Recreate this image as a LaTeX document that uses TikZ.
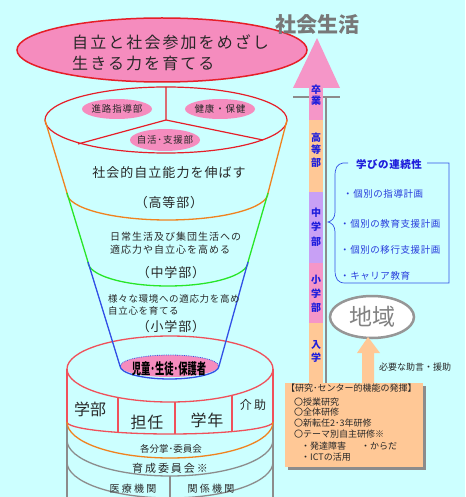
\documentclass[tikz,border=0pt]{standalone}
\usepackage{fontspec}
\setmainfont{Noto Sans CJK JP}
\usetikzlibrary{shapes.geometric}
\definecolor{bg}{RGB}{204,255,255}
\definecolor{pinkfill}{RGB}{245,140,190}
\definecolor{redline}{RGB}{230,30,40}
\definecolor{cylred}{RGB}{240,80,90}
\definecolor{orangeline}{RGB}{240,130,30}
\definecolor{greenline}{RGB}{40,230,40}
\definecolor{blueline}{RGB}{50,80,230}
\definecolor{grayline}{RGB}{140,140,140}
\definecolor{barpink}{RGB}{245,150,200}
\definecolor{peach}{RGB}{255,200,150}
\definecolor{purplebar}{RGB}{200,160,245}
\definecolor{txtblue}{RGB}{30,30,220}
\definecolor{itemblue}{RGB}{40,60,220}
\definecolor{darktext}{RGB}{40,40,40}
\tikzset{
  txt/.style={inner sep=0pt, text=darktext},
  lab/.style={ellipse, fill=pinkfill, inner sep=0pt},
  barlab/.style={inner sep=0pt, text=txtblue, font=\bfseries\fontsize{10}{11.5}\selectfont, align=center},
  item/.style={inner sep=0pt, anchor=west, text=itemblue, font=\fontsize{9.5}{10}\selectfont\addfontfeature{LetterSpace=6}},
  boxtxt/.style={inner sep=0pt, anchor=west, text=darktext, font=\fontsize{9}{10}\selectfont}
}
\begin{document}
\begin{tikzpicture}[x=1pt,y=-1pt]
\fill[bg] (0,0) rectangle (465,497);
\useasboundingbox (0,0) rectangle (465,497);

% ---------- top ellipse ----------
\draw[redline, line width=1.5pt, fill=pinkfill] (162,50) ellipse [x radius=145, y radius=32];
\node[txt, anchor=west, font=\fontsize{16}{18}\selectfont\addfontfeature{LetterSpace=13}] (goal1) at (72,42) {自立と社会参加をめざし};
\node[txt, anchor=west, font=\fontsize{16}{18}\selectfont\addfontfeature{LetterSpace=13}] (goal2) at (72,63) {生きる力を育てる};

% ---------- cylinder ----------
\draw[cylred, line width=1.3pt] (170,369) ellipse [x radius=103, y radius=33];
\draw[cylred, line width=1.3pt] (67,369) -- (67,422) (273,369) -- (273,422);
\draw[grayline, line width=1.3pt] (67,422) -- (67,497) (273,422) -- (273,497);
\draw[cylred, line width=1.3pt] (67,422) arc[start angle=180, end angle=0, x radius=103, y radius=12];
\draw[cylred, line width=1.3pt] (118,397.5) -- (118,432.4) (175,402) -- (175,434) (232,395.4) -- (232,431.6);
\draw[orangeline, line width=1.3pt] (67,422) arc[start angle=180, end angle=0, x radius=103, y radius=36];
\draw[grayline, line width=1.3pt] (67,440) arc[start angle=180, end angle=0, x radius=103, y radius=36];
\draw[grayline, line width=1.3pt] (67,462) arc[start angle=180, end angle=0, x radius=103, y radius=36];
\draw[grayline, line width=1.3pt] (170,476) -- (170,497);

\node[txt, font=\fontsize{16}{18}\selectfont] (gakubu) at (90,409) {学部};
\node[txt, font=\fontsize{16}{18}\selectfont\addfontfeature{LetterSpace=5}] (tannin) at (147,422) {担任};
\node[txt, font=\fontsize{16}{18}\selectfont\addfontfeature{LetterSpace=5}] (gakunen) at (207,420) {学年};
\node[txt, font=\fontsize{12}{13}\selectfont\addfontfeature{LetterSpace=20}] (kaijo) at (253,405) {介助};
\node[txt, font=\fontsize{9.5}{10}\selectfont] (bunsho) at (171,449) {各分掌･委員会};
\node[txt, font=\fontsize{11}{12}\selectfont\addfontfeature{LetterSpace=18}] (ikusei) at (170,468) {育成委員会※};
\node[txt, font=\fontsize{10}{11}\selectfont\addfontfeature{LetterSpace=22}] (iryo) at (133,489) {医療機関};
\node[txt, font=\fontsize{10}{11}\selectfont\addfontfeature{LetterSpace=22}] (kankei) at (211,489) {関係機関};

% ---------- funnel ----------
\draw[redline, line width=1.2pt] (166,120) ellipse [x radius=121, y radius=33];
\draw[redline, line width=1.2pt] (166,87) -- (166,120) -- (78,144) (166,120) -- (263,140);
\node[lab, minimum width=70pt, minimum height=20pt] (shinro) at (117,109) {};
\node[txt, font=\fontsize{9.5}{10}\selectfont\addfontfeature{LetterSpace=8}] at (shinro) {進路指導部};
\node[lab, minimum width=70pt, minimum height=20pt] (kenko) at (220,109) {};
\node[txt, font=\fontsize{9.5}{10}\selectfont\addfontfeature{LetterSpace=8}] at (kenko) {健康・保健};
\node[lab, minimum width=70pt, minimum height=22pt] (jikatsu) at (165,140) {};
\node[txt, font=\fontsize{9.5}{10}\selectfont\addfontfeature{LetterSpace=8}] at (jikatsu) {自活･支援部};

\draw[orangeline, line width=1.3pt] (45,120) -- (67,193) arc[start angle=180, end angle=0, x radius=100.5, y radius=27] -- (287,120);
\draw[greenline, line width=1.3pt] (67,193) -- (88,262) arc[start angle=180, end angle=0, x radius=80, y radius=24] -- (268,193);
\fill[pinkfill] (169.5,366) ellipse [x radius=49, y radius=11];
\draw[blueline, line width=0.8pt, densely dotted] (120.5,366) arc[start angle=180, end angle=360, x radius=49, y radius=11];
\draw[blueline, line width=1.3pt] (88,262) -- (120,366) arc[start angle=180, end angle=0, x radius=49.5, y radius=13] -- (248,262);

\node[txt, font=\fontsize{13}{14}\selectfont\addfontfeature{LetterSpace=8}] (koto1) at (169,173) {社会的自立能力を伸ばす};
\node[txt, font=\fontsize{13}{14}\selectfont\addfontfeature{LetterSpace=6}] (koto2) at (169,203) {（高等部）};
\node[txt, anchor=west, font=\fontsize{10}{11}\selectfont\addfontfeature{LetterSpace=10}] (chu1) at (110,237) {日常生活及び集団生活への};
\node[txt, anchor=west, font=\fontsize{10}{11}\selectfont\addfontfeature{LetterSpace=10}] (chu2) at (110,250) {適応力や自立心を高める};
\node[txt, font=\fontsize{13}{14}\selectfont\addfontfeature{LetterSpace=6}] (chu3) at (171,273) {（中学部）};
\node[txt, anchor=west, font=\fontsize{9.5}{10}\selectfont\addfontfeature{LetterSpace=7}] (sho1) at (108,299) {様々な環境への適応力を高め};
\node[txt, anchor=west, font=\fontsize{9.5}{10}\selectfont\addfontfeature{LetterSpace=7}] (sho2) at (108,311) {自立心を育てる};
\node[txt, font=\fontsize{13}{14}\selectfont\addfontfeature{LetterSpace=6}] (sho3) at (171,327) {（小学部）};
\node[txt, text=black, font=\bfseries\fontsize{15}{16}\selectfont] (jido) at (169,369) {\scalebox{0.62}[1]{児童･生徒･保護者}};

% ---------- right: progression bar ----------
\draw[grayline, line width=2.5pt] (293,97) -- (340,97);
\draw[grayline, line width=2.5pt] (326,97) -- (326,384);
\fill[barpink] (293,88) -- (317,38) -- (340,88) -- cycle;
\fill[barpink] (309,87) rectangle (323,120);
\fill[peach] (309,120) rectangle (323,192);
\fill[purplebar] (309,192) rectangle (323,263);
\fill[barpink] (309,263) rectangle (323,323);
\fill[peach] (309,323) rectangle (323,386);
\node[inner sep=0pt, text={rgb,255:red,120;green,120;blue,120}, font=\bfseries\fontsize{21}{22}\selectfont] (shakai) at (317,25) {社会生活};
\node[barlab] (sotsu) at (316,95) {卒\\業};
\node[barlab, font=\bfseries\fontsize{10}{12.5}\selectfont] (kotob) at (316,150) {高\\等\\部};
\node[barlab, font=\bfseries\fontsize{10}{14.5}\selectfont] (chub) at (316,227) {中\\学\\部};
\node[barlab, font=\bfseries\fontsize{10}{14}\selectfont] (shob) at (316,294) {小\\学\\部};
\node[barlab, font=\bfseries\fontsize{10}{13}\selectfont] (nyu) at (316,351) {入\\学};

% ---------- continuity frame ----------
\node[inner sep=0pt, text=txtblue, font=\bfseries\fontsize{10.5}{11}\selectfont\addfontfeature{LetterSpace=5}] (renzoku) at (389,164) {学びの連続性};
\draw[blueline, line width=0.7pt] (348,163) -- (343,163)
  .. controls (337,164) and (335,168) .. (335,176) -- (335,212)
  .. controls (335,218) and (332,221) .. (328,222)
  .. controls (332,223) and (335,226) .. (335,232) -- (335,270)
  .. controls (335,279) and (338,283) .. (345,283) -- (449,283) -- (449,163) -- (427,163);
\node[item] (i1) at (343,194) {・個別の指導計画};
\node[item] (i2) at (340,224) {・個別の教育支援計画};
\node[item] (i3) at (340,250) {・個別の移行支援計画};
\node[item] (i4) at (340,276) {・キャリア教育};

% ---------- region ----------
\node[ellipse, draw={rgb,255:red,150;green,150;blue,150}, line width=2.5pt, fill=white, minimum width=84pt, minimum height=42pt, inner sep=0pt] (chiiki) at (372,317) {};
\node[inner sep=0pt, text={rgb,255:red,130;green,130;blue,130}, font=\fontsize{23}{24}\selectfont] at (chiiki) {地域};
\fill[peach] (362,384) -- (362,353) -- (357,353) -- (368,337) -- (380,353) -- (374,353) -- (374,384) -- cycle;
\node[txt, font=\fontsize{9}{10}\selectfont] (jogen) at (415,367) {必要な助言・援助};

% ---------- research box ----------
\fill[grayline] (288,386) rectangle (426,470);
\node[draw=none, fill=peach, minimum width=138pt, minimum height=84pt, anchor=north west, inner sep=0pt] (kenkyu) at (285,383) {};
\node[boxtxt] (b1) at (286,388) {【研究･センター的機能の発揮】};
\node[boxtxt] (b2) at (294,402) {〇授業研究};
\node[boxtxt] (b3) at (294,412.5) {〇全体研修};
\node[boxtxt] (b4) at (294,423) {〇新転任2･3年研修};
\node[boxtxt] (b5) at (294,434.5) {〇テーマ別自主研修※};
\node[boxtxt] (b6) at (301,446) {・発達障害};
\node[boxtxt] (b7) at (361,446) {・からだ};
\node[boxtxt] (b8) at (301,457.5) {・ICTの活用};
\end{tikzpicture}
\end{document}
